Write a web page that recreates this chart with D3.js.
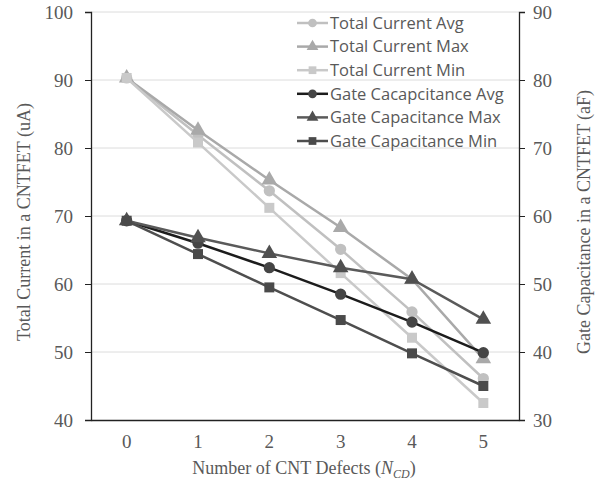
<!DOCTYPE html>
<html>
<head>
<meta charset="utf-8">
<script src="https://cdn.jsdelivr.net/npm/d3@7"></script>
<style>
  body { margin: 0; background: #fff; }
  svg { display: block; }
</style>
</head>
<body>
<div id="chart"></div>
<script>

//// DATA

// Number of CNT defects (x categories)
var defects = [0, 1, 2, 3, 4, 5];

// Total current in uA (left axis)
var currentAvg = [90.3, 81.9, 73.7, 65.1, 55.9, 46.1];
var currentMax = [90.3, 82.6, 75.3, 68.3, 60.7, 49.0];
var currentMin = [90.3, 80.8, 71.2, 61.6, 52.1, 42.5];

// Gate capacitance in aF (right axis)
var capAvg = [59.3, 56.0, 52.4, 48.5, 44.4, 39.9];
var capMax = [59.3, 56.8, 54.5, 52.4, 50.7, 44.8];
var capMin = [59.3, 54.4, 49.5, 44.7, 39.8, 35.0];

// Tick labels
var leftTicks = [40, 50, 60, 70, 80, 90, 100];
var rightTicks = [30, 40, 50, 60, 70, 80, 90];

// Series: name, values, axis, line colour, marker colour, symbol
var seriesList = [
    {name: "Total Current Avg", values: currentAvg, axis: "left", line: "#c0c0c0", mark: "#c0c0c0", sym: d3.symbolCircle},
    {name: "Total Current Max", values: currentMax, axis: "left", line: "#a9a9a9", mark: "#a9a9a9", sym: d3.symbolTriangle},
    {name: "Total Current Min", values: currentMin, axis: "left", line: "#c9c9c9", mark: "#c9c9c9", sym: d3.symbolSquare},
    {name: "Gate Cacapcitance Avg", values: capAvg, axis: "right", line: "#1c1c1c", mark: "#454545", sym: d3.symbolCircle},
    {name: "Gate Capacitance Max", values: capMax, axis: "right", line: "#5a5a5a", mark: "#505050", sym: d3.symbolTriangle},
    {name: "Gate Capacitance Min", values: capMin, axis: "right", line: "#4e4e4e", mark: "#4a4a4a", sym: d3.symbolSquare}
];


//// MAIN

var width = 600, height = 482;
var margin = {top: 12, right: 81, bottom: 62, left: 91};

var svg = d3.select("#chart").append("svg")
    .attr("width", width)
    .attr("height", height);

var plotW = width - margin.left - margin.right;
var plotH = height - margin.top - margin.bottom;

var g = svg.append("g").attr("transform", "translate(" + margin.left + "," + margin.top + ")");

// Scales
var x = d3.scaleBand().domain(defects).range([0, plotW]);
var yLeft = d3.scaleLinear().domain([40, 100]).range([plotH, 0]);
var yRight = d3.scaleLinear().domain([30, 90]).range([plotH, 0]);

var serif = "'Liberation Serif', 'Times New Roman', serif";
var sans = "'Open Sans', Lato, sans-serif";
var textGray = "#595959";

// Gridlines
g.append("g")
    .selectAll("line")
    .data(leftTicks.slice(1))
    .enter()
    .append("line")
    .attr("x1", 0)
    .attr("x2", plotW)
    .attr("y1", function(d) { return yLeft(d); })
    .attr("y2", function(d) { return yLeft(d); })
    .attr("stroke", "#dcdcdc")
    .attr("stroke-width", 1);

// Left axis
var leftAxis = g.append("g")
    .call(d3.axisLeft(yLeft).tickValues(leftTicks).tickSize(6).tickPadding(12));
leftAxis.select(".domain").attr("stroke", "#222").attr("stroke-width", 1.3);
leftAxis.selectAll(".tick line").attr("stroke", "#222");
leftAxis.selectAll("text").attr("font-family", serif).attr("font-size", 19).attr("fill", textGray);

// Right axis
var rightAxis = g.append("g")
    .attr("transform", "translate(" + plotW + ",0)")
    .call(d3.axisRight(yRight).tickValues(rightTicks).tickSize(6).tickPadding(8));
rightAxis.select(".domain").attr("stroke", "#222").attr("stroke-width", 1.3);
rightAxis.selectAll(".tick line").attr("stroke", "#222");
rightAxis.selectAll("text").attr("font-family", serif).attr("font-size", 19).attr("fill", textGray);

// Bottom axis
var bottomAxis = g.append("g")
    .attr("transform", "translate(0," + plotH + ")")
    .call(d3.axisBottom(x).tickSize(0).tickPadding(15));
bottomAxis.select(".domain").attr("stroke", "#222").attr("stroke-width", 1.3);
bottomAxis.selectAll("text").attr("font-family", serif).attr("font-size", 19).attr("fill", textGray);

// Axis titles
svg.append("text")
    .attr("transform", "translate(30," + (margin.top + plotH / 2 + 6) + ") rotate(-90)")
    .attr("text-anchor", "middle")
    .attr("font-family", serif)
    .attr("font-size", 18)
    .attr("fill", textGray)
    .text("Total Current in a CNTFET (uA)");

svg.append("text")
    .attr("transform", "translate(590," + (margin.top + plotH / 2 + 6) + ") rotate(-90)")
    .attr("text-anchor", "middle")
    .attr("font-family", serif)
    .attr("font-size", 18)
    .attr("fill", textGray)
    .text("Gate Capacitance in a CNTFET (aF)");

var xTitle = svg.append("text")
    .attr("x", margin.left + plotW / 2 - 1)
    .attr("y", 474)
    .attr("text-anchor", "middle")
    .attr("font-family", serif)
    .attr("font-size", 18)
    .attr("fill", textGray);
xTitle.append("tspan").text("Number of CNT Defects (");
xTitle.append("tspan").attr("font-style", "italic").text("N");
xTitle.append("tspan").attr("font-style", "italic").attr("font-size", 12).attr("dy", 4).text("CD");
xTitle.append("tspan").attr("dy", -4).text(")");

// Lines and markers
seriesList.forEach(function(s) {
    var yScale = s.axis == "left" ? yLeft : yRight;
    var line = d3.line()
        .x(function(d, i) { return x(defects[i]) + x.bandwidth() / 2; })
        .y(function(d) { return yScale(d); });

    g.append("path")
        .datum(s.values)
        .attr("fill", "none")
        .attr("stroke", s.line)
        .attr("stroke-width", 2.5)
        .attr("d", line);

    g.append("g")
        .selectAll("path")
        .data(s.values)
        .enter()
        .append("path")
        .attr("transform", function(d, i) {
            return "translate(" + (x(defects[i]) + x.bandwidth() / 2) + "," + yScale(d) + ")";
        })
        .attr("d", d3.symbol().type(s.sym).size(s.sym == d3.symbolTriangle ? 105 : 100))
        .attr("fill", s.mark);
});

// Legend
var legend = svg.append("g").attr("transform", "translate(297,23)");
seriesList.forEach(function(s, i) {
    var row = legend.append("g").attr("transform", "translate(0," + (i * 23.6) + ")");
    row.append("line")
        .attr("x1", 0).attr("x2", 31)
        .attr("y1", 0).attr("y2", 0)
        .attr("stroke", s.line)
        .attr("stroke-width", 2.5);
    row.append("path")
        .attr("transform", "translate(15.5,0)")
        .attr("d", d3.symbol().type(s.sym).size(60))
        .attr("fill", s.mark);
    row.append("text")
        .attr("x", 33)
        .attr("y", 0)
        .attr("dy", "0.35em")
        .attr("font-family", sans)
        .attr("font-size", 16.5)
        .attr("fill", textGray)
        .text(s.name);
});

</script>
</body>
</html>
